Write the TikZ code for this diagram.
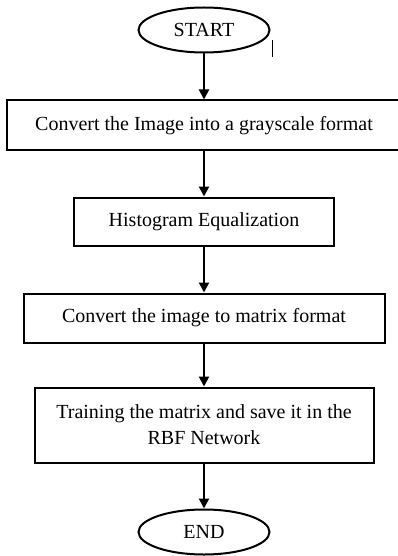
\documentclass[tikz,border=0pt]{standalone}
\usepackage{fontspec}
\setmainfont{Liberation Serif}
\usepackage{tikz}
\usetikzlibrary{shapes,arrows.meta,positioning}

\begin{document}
\begin{tikzpicture}[x=1pt, y=-1pt,
    term/.style={ellipse, draw, line width=2pt, minimum width=131pt, minimum height=45pt, inner sep=0pt},
    proc/.style={rectangle, draw, line width=2pt, align=center, inner sep=0pt},
    flow/.style={-{Triangle[length=10pt,width=10pt]}, line width=2pt},
    font=\fontsize{20}{26}\selectfont]
    \useasboundingbox (0,0) rectangle (398,556);

    % Start
    \node[term] (start) at (204, 30) {START};
    \draw[line width=0.8pt] (272, 40) -- (272, 57);

    % Steps
    \node[proc, minimum width=394pt, minimum height=50pt] (gray) at (204, 125.5)
        {Convert the Image into a grayscale format};
    \node[proc, minimum width=260pt, minimum height=48pt] (hist) at (204, 221.5)
        {Histogram Equalization};
    \node[proc, minimum width=361pt, minimum height=49pt] (matrix) at (204, 318)
        {Convert the image to matrix format};
    \node[proc, minimum width=339pt, minimum height=75pt] (train) at (204, 425)
        {Training the matrix and save it in the\\RBF Network};

    % End
    \node[term] (end) at (204, 532) {END};

    % Arrows
    \draw[flow] (start) -- (gray);
    \draw[flow] (gray) -- (hist);
    \draw[flow] (hist) -- (matrix);
    \draw[flow] (matrix) -- (train);
    \draw[flow] (train) -- (end);
\end{tikzpicture}
\end{document}
